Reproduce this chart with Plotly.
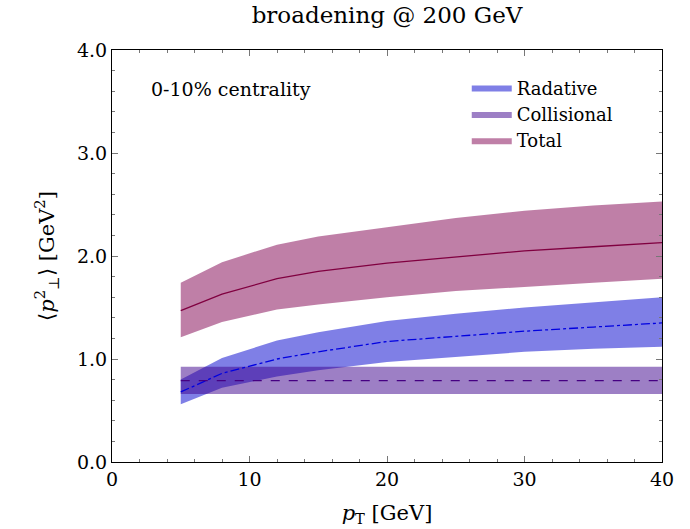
import plotly.graph_objects as go

# transverse momentum grid [GeV]
pt = [5, 8, 12, 15, 20, 25, 30, 35, 40]

# radiative broadening <p_perp^2> [GeV^2]: central value and band
rad_mid = [0.68, 0.86, 1.00, 1.07, 1.17, 1.22, 1.27, 1.31, 1.35]
rad_hi = [0.80, 1.01, 1.18, 1.26, 1.37, 1.44, 1.50, 1.55, 1.60]
rad_lo = [0.56, 0.72, 0.83, 0.89, 0.97, 1.02, 1.07, 1.10, 1.12]

# collisional broadening (pT independent)
col_mid = [0.79] * len(pt)
col_hi = [0.925] * len(pt)
col_lo = [0.66] * len(pt)

# total broadening
tot_mid = [1.47, 1.63, 1.78, 1.85, 1.93, 1.99, 2.05, 2.09, 2.13]
tot_hi = [1.74, 1.94, 2.11, 2.19, 2.28, 2.37, 2.44, 2.49, 2.53]
tot_lo = [1.21, 1.36, 1.48, 1.53, 1.60, 1.66, 1.70, 1.74, 1.78]

series = [
    ("Radative", rad_mid, rad_hi, rad_lo, "rgba(0,0,205,0.5)", "rgb(0,0,225)", "dashdot"),
    ("Collisional", col_mid, col_hi, col_lo, "rgba(60,0,140,0.5)", "rgb(70,0,130)", "dash"),
    ("Total", tot_mid, tot_hi, tot_lo, "rgba(128,0,80,0.5)", "rgb(128,0,64)", "solid"),
]

FONT = "DejaVu Serif"

fig = go.Figure()

for name, mid, hi, lo, fill, line, dash in series:
    fig.add_trace(go.Scatter(
        x=pt + pt[::-1], y=hi + lo[::-1],
        fill="toself", fillcolor=fill, mode="lines",
        line=dict(width=0, color=fill), name=name, hoverinfo="skip",
    ))

for name, mid, hi, lo, fill, line, dash in series:
    fig.add_trace(go.Scatter(
        x=pt, y=mid, mode="lines", showlegend=False,
        line=dict(color=line, width=1.3, dash=dash), name=name,
    ))

axis_common = dict(
    showline=True, linecolor="black", linewidth=1, mirror="allticks",
    ticks="inside", ticklen=6, tickcolor="#777", showgrid=False, zeroline=False,
    automargin=False,
    tickfont=dict(family=FONT, size=19, color="black"),
)

fig.update_xaxes(
    range=[0, 40], tickvals=[0, 10, 20, 30, 40],
    minor=dict(dtick=2, ticks="inside", ticklen=3, tickcolor="#777"),
    title=dict(text="<i>p</i><sub>T</sub> [GeV]", font=dict(family=FONT, size=21), standoff=16),
    **axis_common,
)
fig.update_yaxes(
    range=[0, 4], tickvals=[0, 1, 2, 3, 4], tickformat=".1f",
    minor=dict(dtick=0.2, ticks="inside", ticklen=3, tickcolor="#777"),
    title=dict(text="⟨<i>p</i><sup>2</sup><sub>⊥</sub>⟩ [GeV<sup>2</sup>]", font=dict(family=FONT, size=21), standoff=16),
    **axis_common,
)

fig.update_layout(
    width=690, height=529,
    margin=dict(l=112, r=28, t=50, b=67),
    plot_bgcolor="white", paper_bgcolor="white",
    font=dict(family=FONT, size=19, color="black"),
    title=dict(text="broadening @ 200 GeV", x=0.5, xref="paper", y=0.972, yanchor="middle",
               font=dict(family=FONT, size=23)),
    legend=dict(x=0.645, y=0.953, xanchor="left", yanchor="top", bgcolor="rgba(0,0,0,0)",
                font=dict(family=FONT, size=18), itemwidth=40, tracegroupgap=0),
    annotations=[dict(text="0-10% centrality", x=0.068, y=0.905, xref="paper", yref="paper",
                      xanchor="left", yanchor="middle", showarrow=False,
                      font=dict(family=FONT, size=19))],
)

fig.write_html("out.html")
